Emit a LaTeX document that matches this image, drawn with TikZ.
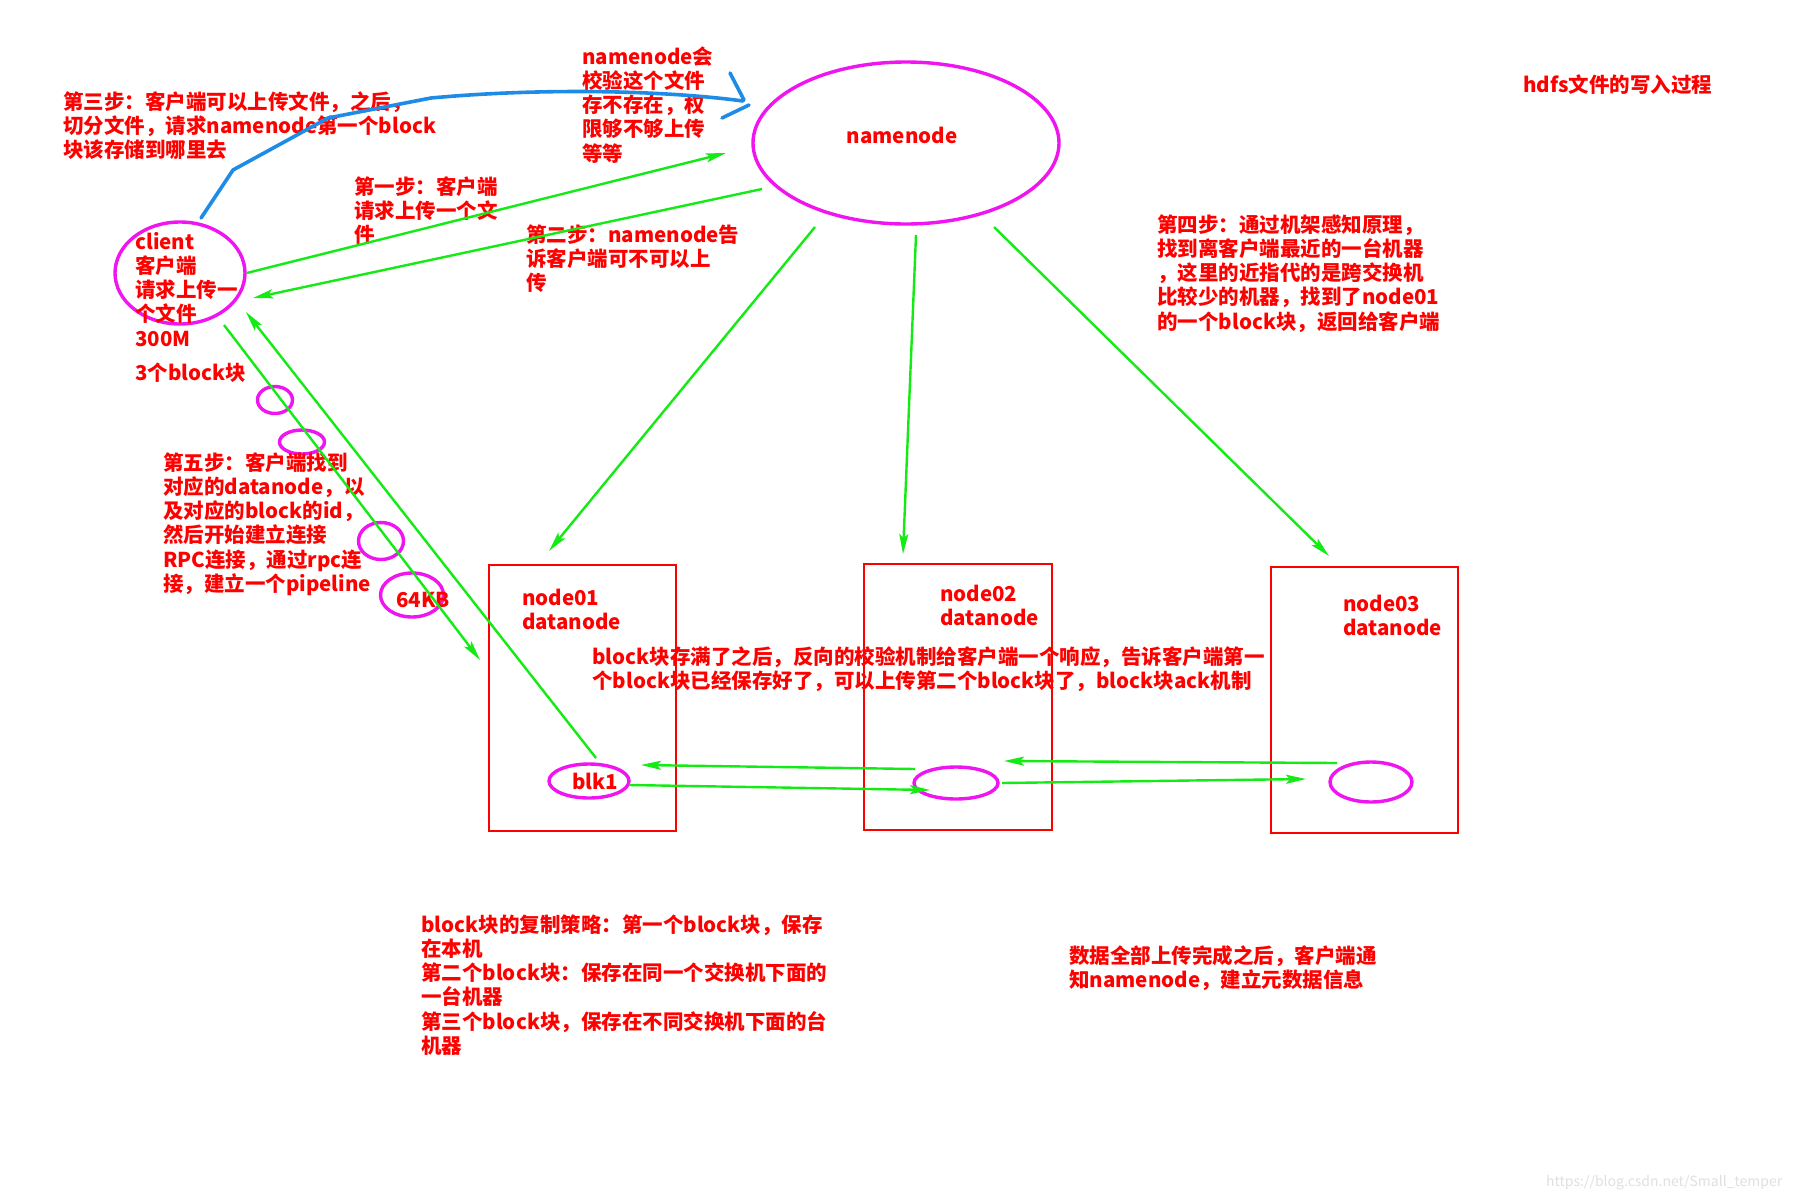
\documentclass[tikz,border=0pt]{standalone}
\usepackage{fontspec}
\setmainfont{Noto Sans CJK SC}
\usetikzlibrary{shapes.geometric,arrows.meta}
\definecolor{gc}{RGB}{20,235,20}
\definecolor{mc}{RGB}{240,20,240}
\definecolor{bc}{RGB}{30,140,230}
\definecolor{rc}{RGB}{255,0,0}
\tikzset{
  txt/.style={font=\bfseries\fontsize{20.5}{24.3}\selectfont, text=rc, align=left, inner sep=0pt, anchor=base west},
  gar/.style={draw=gc, line width=2.4pt, -{Stealth[length=20pt,width=9pt,inset=4pt]}},
  ell/.style={ellipse, draw=mc, line width=3.4pt, inner sep=0pt},
  box/.style={rectangle, draw=rc, line width=2pt, inner sep=0pt},
  blue/.style={draw=bc, line width=3.6pt, line cap=round, line join=round}
}
\begin{document}
\begin{tikzpicture}[x=1pt,y=-1pt]
\useasboundingbox (0,0) rectangle (1800,1200);
\fill[white] (0,0) rectangle (1800,1200);

% main nodes
\node[ell, minimum width=306, minimum height=162] (nn) at (906,143) {};
\node[txt, anchor=center] (nnt) at (902,135) {namenode};
\node[ell, minimum width=130, minimum height=102] (cl) at (180,273) {};

\node[box, minimum width=187, minimum height=266] (d1) at (582.5,698) {};
\node[box, minimum width=188, minimum height=266] (d2) at (958,697) {};
\node[box, minimum width=187, minimum height=266] (d3) at (1364.5,700) {};

\node[ell, minimum width=80, minimum height=34] (b1) at (589,781) {};
\node[txt, anchor=center] (b1t) at (595,781) {blk1};
\node[ell, minimum width=84, minimum height=32] (b2) at (956,783) {};
\node[ell, minimum width=82, minimum height=40] (b3) at (1371,782) {};

% small packet ellipses
\node[ell, minimum width=35, minimum height=27] (p1) at (275,400) {};
\node[ell, minimum width=45, minimum height=24] (p2) at (302,442) {};
\node[ell, minimum width=45, minimum height=37] (p3) at (381,541) {};
\node[ell, minimum width=63, minimum height=44] (p4) at (412,595) {};

% texts (anchor = baseline of the last line)
\node[txt] (t3) at (63,157.6) {第三步：客户端可以上传文件，之后，\\切分文件，请求namenode第一个block\\块该存储到哪里去};
\node[txt] (tnc) at (582,161.2) {namenode会\\校验这个文件\\存不存在，权\\限够不够上传\\等等};
\node[txt] (thdfs) at (1523,92) {hdfs文件的写入过程};
\node[txt] (clt) at (135,346.2) {client\\客户端\\请求上传一\\个文件\\300M};
\node[txt] (t3b) at (135,380) {3个block块};
\node[txt] (t1) at (354,242.6) {第一步：客户端\\请求上传一个文\\件};
\node[txt] (t2) at (526,290.6) {第二步：namenode告\\诉客户端可不可以上\\传};
\node[txt] (t4) at (1157,329.2) {第四步：通过机架感知原理，\\找到离客户端最近的一台机器\\，这里的近指代的是跨交换机\\比较少的机器，找到了node01\\的一个block块，返回给客户端};
\node[txt] (t5) at (163,591.5) {第五步：客户端找到\\对应的datanode，以\\及对应的block的id，\\然后开始建立连接\\RPC连接，通过rpc连\\接，建立一个pipeline};
\node[txt] (t64) at (396,607) {64KB};
\node[txt] (n1t) at (522,629.3) {node01\\datanode};
\node[txt] (n2t) at (940,625.3) {node02\\datanode};
\node[txt] (n3t) at (1343,635.3) {node03\\datanode};
\node[txt] (tack) at (592,688.3) {block块存满了之后，反向的校验机制给客户端一个响应，告诉客户端第一\\个block块已经保存好了，可以上传第二个block块了，block块ack机制};
\node[txt] (tcopy) at (421,1053.5) {block块的复制策略：第一个block块，保存\\在本机\\第二个block块：保存在同一个交换机下面的\\一台机器\\第三个block块，保存在不同交换机下面的台\\机器};
\node[txt] (tdone) at (1069,987.3) {数据全部上传完成之后，客户端通\\知namenode，建立元数据信息};
\node[font=\fontsize{14}{16}\selectfont, text=black!12, anchor=base west, inner sep=0pt] (wm) at (1546,1186) {https://blog.csdn.net/Small\_temper};

% connector end points
\coordinate (e1) at (726,153);
\coordinate (s2) at (762,189);
\coordinate (e2) at (253,298);
\coordinate (s3) at (815,227);
\coordinate (e3) at (549,551);
\coordinate (s4) at (916,235);
\coordinate (e4) at (903,554);
\coordinate (s5) at (994,227);
\coordinate (e5) at (1329,556);
\coordinate (s6) at (224,325);
\coordinate (e6) at (480,660);
\coordinate (s7) at (596,758);
\coordinate (e7) at (246,312);
\coordinate (s8) at (915,769);
\coordinate (e8) at (641,765);
\coordinate (s9) at (629,785);
\coordinate (e9) at (930,790);
\coordinate (s10) at (1337,763);
\coordinate (e10) at (1004,761);
\coordinate (s11) at (1002,783);
\coordinate (e11) at (1306,779);

% green arrows
\draw[gar] (cl.east) -- (e1);
\draw[gar] (s2) -- (e2);
\draw[gar] (s3) -- (e3);
\draw[gar] (s4) -- (e4);
\draw[gar] (s5) -- (e5);
\draw[gar] (s6) -- (e6);
\draw[gar] (s7) -- (e7);
\draw[gar] (s8) -- (e8);
\draw[gar] (s9) -- (e9);
\draw[gar] (s10) -- (e10);
\draw[gar] (s11) -- (e11);

% blue hand-drawn arrow
\coordinate (bs) at (201,218);
\coordinate (bt) at (743,101);
\draw[blue] (bs) -- (233,170) -- (328,118) -- (431,98) .. controls (540,88) and (660,90) .. (bt);
\draw[blue] (730,73) -- (744,100);
\draw[blue] (749,105) -- (722,118);
\end{tikzpicture}
\end{document}
